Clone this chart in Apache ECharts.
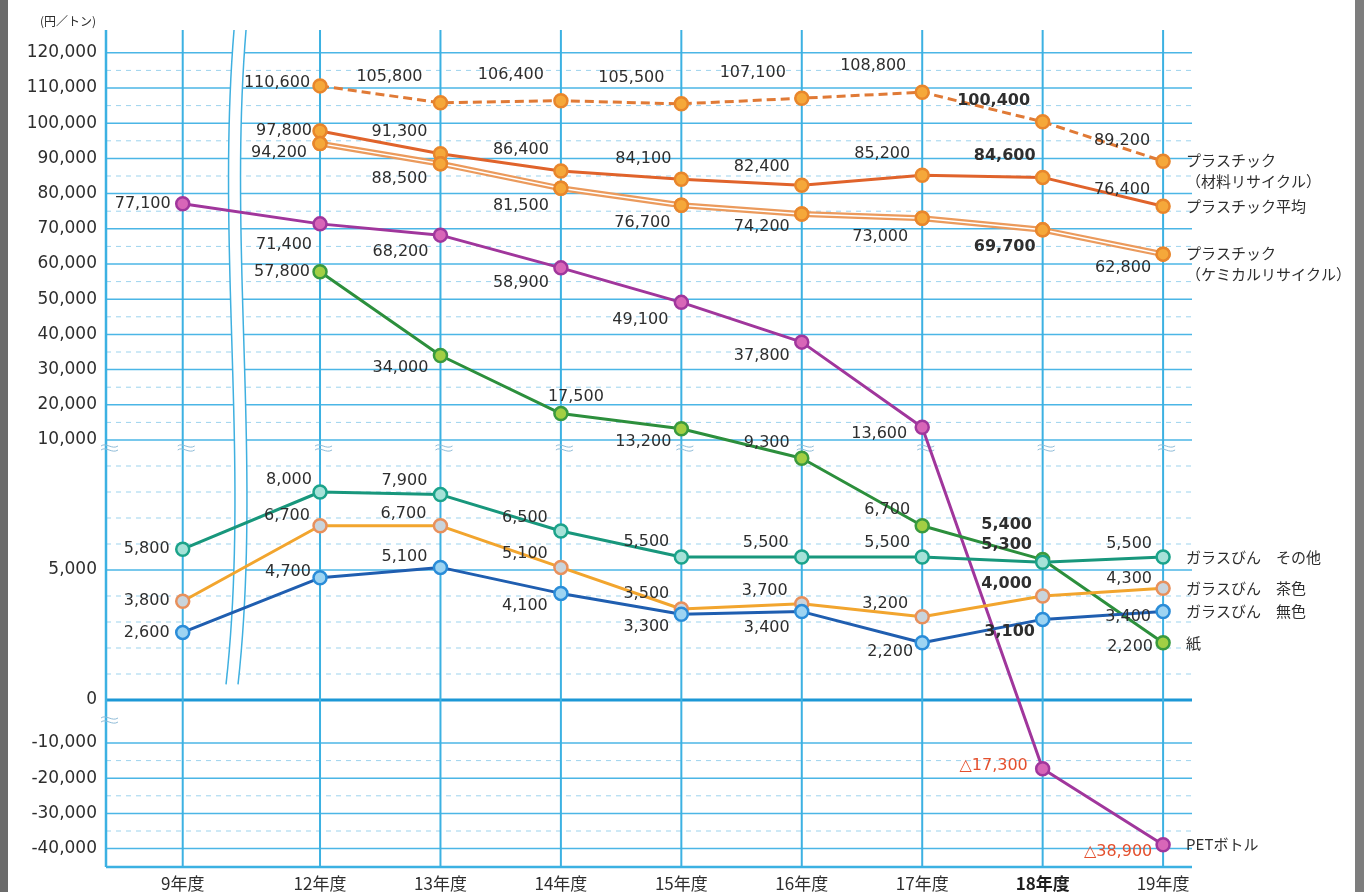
<!DOCTYPE html>
<html>
<head>
<meta charset="utf-8">
<script src="https://cdn.jsdelivr.net/npm/echarts@6/dist/echarts.min.js"></script>
<style>
  html, body { margin: 0; padding: 0; background: #ffffff; }
  #chart { width: 1364px; height: 892px; }
</style>
</head>
<body>
<div id="chart"></div>
<script>
// ---- data -------------------------------------------------------------
const categories = ['9年度', '12年度', '13年度', '14年度', '15年度', '16年度', '17年度', '18年度', '19年度'];
const plasticMaterial = [null, 110600, 105800, 106400, 105500, 107100, 108800, 100400, 89200];
const plasticAverage  = [null, 97800, 91300, 86400, 84100, 82400, 85200, 84600, 76400];
const plasticChemical = [null, 94200, 88500, 81500, 76700, 74200, 73000, 69700, 62800];
const petBottle       = [77100, 71400, 68200, 58900, 49100, 37800, 13600, -17300, -38900];
const paper           = [null, 57800, 34000, 17500, 13200, 9300, 6700, 5400, 2200];
const glassOther      = [5800, 8000, 7900, 6500, 5500, 5500, 5500, 5300, 5500];
const glassBrown      = [3800, 6700, 6700, 5100, 3500, 3700, 3200, 4000, 4300];
const glassClear      = [2600, 4700, 5100, 4100, 3300, 3400, 2200, 3100, 3400];
const yTickValues = [120000, 110000, 100000, 90000, 80000, 70000, 60000, 50000, 40000, 30000, 20000, 10000,
                     5000, 0, -10000, -20000, -30000, -40000];
const solidLines  = [120000, 110000, 100000, 90000, 80000, 70000, 60000, 50000, 40000, 30000, 20000, 10000,
                     5000, -10000, -20000, -30000, -40000];
const dashedLines = [115000, 105000, 95000, 85000, 75000, 65000, 55000, 45000, 35000, 25000, 15000,
                     9000, 8000, 7000, 6000, 4000, 3000, 2000, 1000, -15000, -25000, -35000];
const unitLabel = '(円／トン)';

// ---- broken value scale --------------------------------------------------
// above 10,000 and below -10,000 the scale is compressed; 0..10,000 is stretched
function toAxis(v) {
  if (v >= 10000) return 260 + (v - 10000) * 0.00352;
  if (v >= 0) return v * 0.026;
  if (v >= -10000) return v * 0.0043;
  return -43 + (v + 10000) * 0.00352;
}
const Y_MIN = -167, Y_MAX = 670;

// the 9年度 column sits further left, past the axis break
const FIRST_GAP = 1.14;
const XPOS = categories.map((c, i) => (i === 0 ? 1 - FIRST_GAP : i));
const X_MIN = -0.777, X_MAX = 8.24;
const BREAK_X = 0.286;
const BREAK_BOTTOM = toAxis(600);

const TEXT = '#2e2e2e';
const RED = '#e4502e';
const NUM_FONT = 'DejaVu Sans';
const JP_FONT = '"Noto Sans CJK JP", "Noto Sans", sans-serif';

function fmt(v) {
  const s = Math.abs(v).toString().replace(/\B(?=(\d{3})+(?!\d))/g, ',');
  return v < 0 ? '△' + s : s;
}

// label offsets (label centre relative to the marker) for each point
const offsets = {
  material: [null, [-43, -3], [-51, -26], [-50, -26], [-50, -26], [-49, -25], [-49, -26], [-49, -21], [-41, -20]],
  average:  [null, [-36, 0], [-41, -22], [-40, -21], [-38, -20], [-40, -18], [-40, -21], [-38, -22], [-41, -16]],
  chemical: [null, [-41, 9], [-41, 15], [-40, 18], [-39, 18], [-40, 13], [-42, 19], [-38, 17], [-40, 14]],
  pet:      [[-40, 0], [-36, 21], [-40, 17], [-40, 15], [-41, 17], [-40, 14], [-43, 7], [-49, -3], [-45, 7]],
  paper:    [null, [-38, 0], [-40, 12], [15, -17], [-38, 13], [-35, -15], [-35, -16], [-36, -35], [-33, 4]],
  gOther:   [[-36, 0], [-31, -12], [-36, -14], [-36, -13], [-35, -15], [-36, -14], [-35, -14], [-36, -17], [-34, -13]],
  gBrown:   [[-36, 0], [-33, -10], [-37, -12], [-36, -14], [-35, -15], [-37, -13], [-37, -13], [-36, -12], [-34, -9]],
  gClear:   [[-36, 0], [-32, -6], [-36, -11], [-36, 12], [-35, 13], [-35, 16], [-32, 9], [-33, 12], [-35, 5]]
};

function buildData(values, offs, showLabels) {
  const out = [];
  values.forEach((v, i) => {
    if (v === null) return;
    out.push({
      value: [XPOS[i], toAxis(v)],
      raw: v,
      label: showLabels ? {
        offset: offs[i],
        color: v < 0 ? RED : TEXT,
        fontWeight: (i === 7 && v >= 0) ? 'bold' : 'normal'
      } : { show: false }
    });
  });
  return out;
}

function lineSeries(cfg) {
  return {
    type: 'line',
    name: cfg.name,
    z: cfg.z || 5,
    data: buildData(cfg.values, cfg.offsets, cfg.labels !== false),
    symbol: 'circle',
    symbolSize: 13,
    showSymbol: true,
    lineStyle: { color: cfg.color, width: cfg.width || 3, type: cfg.dash || 'solid' },
    itemStyle: { color: cfg.fill, borderColor: cfg.border, borderWidth: 2.5 },
    label: {
      show: cfg.labels !== false,
      position: 'inside',
      fontFamily: NUM_FONT,
      fontSize: 16,
      formatter: p => fmt(p.data.raw)
    },
    endLabel: cfg.endName ? {
      show: true,
      formatter: cfg.endName,
      distance: 23,
      offset: cfg.endOffset || [0, 0],
      fontFamily: JP_FONT,
      fontSize: 15,
      lineHeight: 21,
      color: TEXT,
      align: 'left'
    } : { show: false },
    emphasis: { disabled: true },
    animation: false
  };
}

// ---- grid decoration (custom series so it follows the broken scale) ------
function hLines(positions, style, z) {
  return {
    type: 'custom', silent: true, z: z,
    data: positions.map(p => [0, p]),
    encode: { x: 0, y: 1 },
    clip: false,
    renderItem: (params, api) => {
      const cs = params.coordSys;
      const y = api.coord([0, api.value(1)])[1];
      return { type: 'line', shape: { x1: cs.x, y1: y, x2: cs.x + cs.width, y2: y }, style: style };
    },
    animation: false
  };
}

const breakTicks = {
  type: 'custom', silent: true, z: 3,
  data: [[X_MIN, toAxis(10000), 6]].concat(XPOS.map(x => [x, toAxis(10000), 6])).concat([[X_MIN, 0, 18]]),
  encode: { x: 0, y: 1 },
  clip: false,
  renderItem: (params, api) => {
    const p = api.coord([api.value(0), api.value(1)]);
    const x = p[0] + 4, y = p[1] + api.value(2);
    const wave = dy => ({
      type: 'bezierCurve',
      shape: { x1: x - 9, y1: y + dy, cpx1: x - 4, cpy1: y + dy - 4, cpx2: x + 2, cpy2: y + dy + 4, x2: x + 8, y2: y + dy },
      style: { stroke: '#8fbcd8', lineWidth: 1, fill: null }
    });
    return { type: 'group', children: [wave(0), wave(4)] };
  },
  animation: false
};

function bez(p0, p1, p2, p3, t) {
  const u = 1 - t;
  return u * u * u * p0 + 3 * u * u * t * p1 + 3 * u * t * t * p2 + t * t * t * p3;
}

const breakBand = {
  type: 'custom', silent: true, z: 4,
  data: [[BREAK_X, BREAK_BOTTOM]],
  encode: { x: 0, y: 1 },
  clip: false,
  renderItem: (params, api) => {
    const cs = params.coordSys;
    const x0 = api.coord([api.value(0), 0])[0];
    const top = cs.y;
    const bottom = api.coord([0, api.value(1)])[1];
    const left = [], right = [];
    for (let i = 0; i <= 40; i++) {
      const t = i / 40;
      const x = bez(0, -18, 16, -8, t);
      const y = top + (bottom - top) * t;
      left.push([x0 + x, y]);
      right.push([x0 + x + 12, y]);
    }
    return {
      type: 'group',
      children: [
        { type: 'polygon', shape: { points: left.concat(right.slice().reverse()) }, style: { fill: '#ffffff' } },
        { type: 'polyline', shape: { points: left }, style: { stroke: '#3fb0e0', lineWidth: 1.5, fill: null } },
        { type: 'polyline', shape: { points: right }, style: { stroke: '#3fb0e0', lineWidth: 1.5, fill: null } }
      ]
    };
  },
  animation: false
};

const vLines = {
  type: 'custom', silent: true, z: 2,
  data: [[X_MIN, 0, 2.5]].concat(XPOS.map(x => [x, 0, 2])),
  encode: { x: 0, y: 1 },
  clip: false,
  renderItem: (params, api) => {
    const cs = params.coordSys;
    const x = api.coord([api.value(0), 0])[0];
    return { type: 'line', shape: { x1: x, y1: cs.y, x2: x, y2: cs.y + cs.height },
             style: { stroke: '#3cb1e2', lineWidth: api.value(2) } };
  },
  animation: false
};

const orangeMarker = { fill: '#f5a83a', border: '#e8862c' };

const series = [
  hLines(dashedLines.map(toAxis), { stroke: '#9dd3ee', lineWidth: 1, lineDash: [5, 5] }, 1),
  hLines(solidLines.map(toAxis), { stroke: '#4bb6e6', lineWidth: 1.5 }, 1),
  hLines([toAxis(0)], { stroke: '#1c98d6', lineWidth: 3 }, 2),
  hLines([Y_MIN], { stroke: '#3cb1e2', lineWidth: 2.5 }, 2),
  vLines,
  breakBand,
  breakTicks,
  lineSeries({ name: 'プラスチック（材料リサイクル）', values: plasticMaterial, offsets: offsets.material,
    color: '#e07a36', dash: [9, 5], fill: orangeMarker.fill, border: orangeMarker.border,
    endName: 'プラスチック\n（材料リサイクル）', endOffset: [0, 10] }),
  lineSeries({ name: 'プラスチック平均', values: plasticAverage, offsets: offsets.average,
    color: '#e0632b', fill: orangeMarker.fill, border: orangeMarker.border, endName: 'プラスチック平均' }),
  lineSeries({ name: 'プラスチック（ケミカルリサイクル）', values: plasticChemical, offsets: offsets.chemical,
    color: '#eb9a5c', width: 6, fill: orangeMarker.fill, border: orangeMarker.border, labels: true,
    endName: 'プラスチック\n（ケミカルリサイクル）', endOffset: [0, 10] }),
  lineSeries({ name: 'chemical-inner', values: plasticChemical, offsets: offsets.chemical,
    color: '#ffffff', width: 1.5, fill: orangeMarker.fill, border: orangeMarker.border, labels: false, z: 6 }),
  lineSeries({ name: 'PETボトル', values: petBottle, offsets: offsets.pet,
    color: '#a0369c', fill: '#d866b8', border: '#a0369c', endName: 'PETボトル' }),
  lineSeries({ name: '紙', values: paper, offsets: offsets.paper,
    color: '#2c8f3c', fill: '#a2cf44', border: '#3a9a3e', endName: '紙' }),
  lineSeries({ name: 'ガラスびん その他', values: glassOther, offsets: offsets.gOther,
    color: '#18977c', fill: '#a6e2d8', border: '#1ba38a', endName: 'ガラスびん　その他' }),
  lineSeries({ name: 'ガラスびん 茶色', values: glassBrown, offsets: offsets.gBrown,
    color: '#f2a52e', fill: '#c9d4dc', border: '#e8905c', endName: 'ガラスびん　茶色' }),
  lineSeries({ name: 'ガラスびん 無色', values: glassClear, offsets: offsets.gClear,
    color: '#1f5eb0', fill: '#9dd4f2', border: '#2a8cd8', endName: 'ガラスびん　無色' })
];

const yTickPos = yTickValues.map(toAxis);

const option = {
  backgroundColor: '#ffffff',
  animation: false,
  grid: { left: 106, right: 172, top: 30, bottom: 25 },
  xAxis: {
    type: 'value', min: X_MIN, max: X_MAX,
    axisLine: { show: false, onZero: false }, axisTick: { show: false }, splitLine: { show: false },
    axisLabel: {
      customValues: XPOS,
      margin: 8,
      fontFamily: JP_FONT, fontSize: 17, color: TEXT,
      formatter: v => {
        const i = XPOS.findIndex(x => Math.abs(x - v) < 1e-6);
        if (i < 0) return '';
        return i === 7 ? '{b|' + categories[i] + '}' : categories[i];
      },
      rich: { b: { fontFamily: JP_FONT, fontSize: 17, fontWeight: 'bold', color: '#1e1e1e' } }
    }
  },
  yAxis: {
    type: 'value', min: Y_MIN, max: Y_MAX,
    name: unitLabel, nameLocation: 'end', nameGap: 3,
    nameTextStyle: { fontFamily: JP_FONT, fontSize: 12, color: TEXT, align: 'right', padding: [0, 10, 0, 0] },
    axisLine: { show: false, onZero: false }, axisTick: { show: false }, splitLine: { show: false },
    axisLabel: {
      customValues: yTickPos,
      margin: 9,
      fontFamily: NUM_FONT, fontSize: 17, color: TEXT,
      formatter: v => {
        const i = yTickPos.findIndex(p => Math.abs(p - v) < 1e-6);
        return i < 0 ? '' : fmt(yTickValues[i]).replace('△', '-');
      }
    }
  },
  graphic: [
    { type: 'rect', shape: { x: 0, y: 0, width: 8, height: 892 }, style: { fill: '#6b6b6b' }, silent: true },
    { type: 'rect', shape: { x: 1355, y: 0, width: 9, height: 892 }, style: { fill: '#7d7d7d' }, silent: true }
  ],
  series: series
};

const chart = echarts.init(document.getElementById('chart'), null, { renderer: 'canvas' });
chart.setOption(option);
</script>
</body>
</html>
